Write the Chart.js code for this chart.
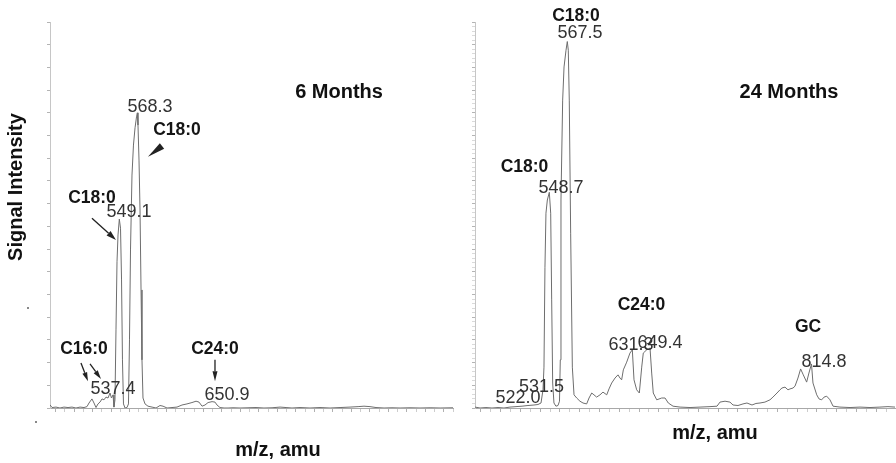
<!DOCTYPE html>
<html><head><meta charset="utf-8">
<script src="https://cdn.jsdelivr.net/npm/chart.js@4.4.1/dist/chart.umd.min.js"></script>
<style>
html,body{margin:0;padding:0;background:#fff;}
#wrap{position:relative;width:896px;height:463px;overflow:hidden;background:#fff;}
#c1{position:absolute;left:0;top:0;}
#c2{position:absolute;left:460px;top:0;}
</style></head><body>
<div id="wrap"><canvas id="c1" width="460" height="463"></canvas><canvas id="c2" width="436" height="463"></canvas></div>
<script>
// ---- 6 months spectrum (m/z, signal intensity) ----
const mz6 = [474.0,476.2,480.5,484.8,489.1,493.5,497.8,502.1,506.5,510.8,514.0,516.2,519.4,521.6,523.8,525.9,528.1,530.3,532.4,534.6,536.8,538.9,540.5,542.2,543.2,544.3,545.4,546.5,547.6,549.0,550.3,551.4,552.4,553.5,555.2,557.3,558.9,560.0,561.1,562.7,564.3,566.0,567.6,568.5,569.2,570.3,571.4,572.5,573.5,574.6,576.8,580.0,584.4,588.7,593.0,596.3,600.6,606.0,611.4,616.8,622.2,627.6,632.0,635.2,638.5,641.7,645.0,649.3,652.5,654.7,657.9,662.3,666.6,672.0,679.6,688.2,696.9,705.5,714.2,722.9,729.4,735.8,744.5,755.3,766.1,777.0,787.8,798.6,807.3,813.7,820.2,826.7,835.4,844.0,852.7,863.5,874.3,885.2,896.0,910.0];
const int6 = [0.7,0.1,0.2,0.0,0.2,0.1,0.2,0.0,0.2,0.1,0.3,1.1,2.0,1.1,0.1,0.9,1.3,2.0,1.8,2.4,2.2,3.3,2.2,2.9,0.2,1.8,17.2,32.2,38.1,41.6,39.6,28.2,10.6,0.9,0.0,0.1,0.9,15.0,34.8,51.3,57.9,61.7,64.1,65.0,62.3,54.6,43.6,26.0,10.6,2.2,0.9,0.4,0.2,0.0,0.55,0.4,0.0,0.1,0.2,0.66,0.9,1.2,1.5,1.3,0.4,0.66,1.2,1.4,1.3,0.66,0.1,0.0,0.0,0.05,0.0,0.05,0.1,0.0,0.05,0.2,0.1,0.0,0.1,0.0,0.1,0.0,0.1,0.2,0.3,0.4,0.3,0.1,0.0,0.05,0.0,0.05,0.0,0.05,0.0,0.05];

// ---- 24 months spectrum ----
const mz24 = [474.0,479.1,485.1,491.2,497.3,503.3,509.4,515.5,521.6,527.6,533.7,537.7,540.8,542.8,543.8,544.8,545.8,547.2,549.2,550.6,551.6,552.6,553.9,555.9,558.0,559.5,560.3,561.0,562.7,564.1,566.1,567.4,568.4,569.4,570.8,572.5,574.2,576.9,580.2,583.3,587.0,589.4,592.1,594.4,597.1,600.5,603.5,607.3,609.6,612.3,615.7,618.7,620.7,622.4,624.1,627.5,630.8,633.2,634.9,637.6,640.3,642.7,644.3,647.7,651.1,652.8,654.4,657.9,662.9,666.3,669.6,674.4,681.5,691.6,701.7,711.8,718.9,721.9,727.0,732.0,735.1,740.1,745.2,749.2,754.3,758.3,762.4,767.4,772.5,775.5,779.6,782.6,784.6,787.7,790.7,792.7,795.8,797.8,800.8,803.5,806.2,809.6,811.9,814.5,816.0,819.8,822.1,824.8,827.2,829.9,833.2,836.3,843.3,853.5,863.6,873.7,883.8,891.9,899.0];
const int24 = [0.2,0.0,0.1,0.0,0.1,0.0,0.2,0.3,0.4,0.55,0.66,0.77,1.1,4.0,9.0,31.0,42.9,45.8,47.5,42.9,23.8,5.5,1.1,0.4,0.55,1.5,10.6,45.8,67.8,75.1,78.8,80.7,78.8,67.8,38.5,9.0,2.9,2.2,1.5,1.1,0.9,2.2,3.3,2.9,2.4,2.9,3.5,2.9,4.2,5.5,6.6,7.3,6.6,6.2,8.4,10.1,12.1,12.8,6.2,4.0,3.3,9.0,12.1,12.8,13.2,7.7,3.3,1.8,2.2,2.2,1.1,0.4,0.2,0.1,0.2,0.3,0.4,1.3,1.5,1.3,0.66,0.55,0.9,1.1,0.66,1.0,1.1,1.3,1.8,2.4,3.3,4.0,4.4,4.6,4.0,4.2,4.4,4.8,6.6,8.6,7.3,5.7,7.7,9.7,5.5,2.9,2.0,1.8,2.4,2.6,1.8,0.4,0.2,0.1,0.2,0.1,0.2,0.3,0.2];

// ---- annotation texts ----
const notes6Text = ['568.3','C18:0','C18:0','549.1','C16:0','537.4','C24:0','650.9'];
const notes24Text = ['C18:0','567.5','C18:0','548.7','C24:0','631.3','649.4','GC','814.8','531.5','522.0'];
const panelTitles = ['6 Months','24 Months'];
const xTitle = 'm/z, amu';
const yTitle = 'Signal Intensity';

// ---- annotation placement (data units) ----
const notes6Pos = [[582.2,66.3,0],[611.4,61.2,1],[519.4,46.2,1],[559.5,43.2,0],[510.8,13.0,1],[542.2,4.2,0],[652.5,13.0,1],[665.5,2.9,0]];
const notes24Pos = [[576.2,86.3,1],[580.2,82.6,0],[524.1,53.1,1],[561.0,48.4,0],[642.5,22.7,1],[631.9,13.9,0],[661.2,14.3,0],[811.0,17.8,1],[827.2,10.1,0],[541.3,4.6,0],[517.5,2.2,0]];
const arrows6 = [[519.4,41.8,545.4,37.0,10,6],[507.5,9.9,515.1,5.9,9,5],[517.3,9.7,529.2,6.4,9,5],[652.5,10.6,652.5,5.9,10,5],[595.2,57.7,580.0,55.3,99,7]];

const FONT = '"Liberation Sans", Arial, Helvetica, sans-serif';

function drawArrow(ctx,x1,y1,x2,y2,head,w){
  const len=Math.hypot(x2-x1,y2-y1); head=Math.min(head,len);
  const a=Math.atan2(y2-y1,x2-x1);
  const bx=x2-head*Math.cos(a), by=y2-head*Math.sin(a);
  if(head<len){ctx.beginPath();ctx.moveTo(x1,y1);ctx.lineTo(bx,by);ctx.stroke();}
  ctx.beginPath();ctx.moveTo(x2,y2);
  ctx.lineTo(bx+w/2*Math.sin(a),by-w/2*Math.cos(a));
  ctx.lineTo(bx-w/2*Math.sin(a),by+w/2*Math.cos(a));
  ctx.closePath();ctx.fill();
}

function annoPlugin(texts,pos,arrows,title,titlePos,xTitlePx,extra){
  return {id:'anno',afterDraw(chart){
    const ctx=chart.ctx, xs=chart.scales.x, ys=chart.scales.y;
    const px=m=>xs.getPixelForValue(m), py=v=>ys.getPixelForValue(v);
    ctx.save();
    ctx.textAlign='center';ctx.textBaseline='middle';
    texts.forEach((t,i)=>{const p=pos[i];
      ctx.font=p[2]?('bold 17.5px '+FONT):('18px '+FONT);
      ctx.fillStyle=p[2]?'#151515':'#333';
      ctx.fillText(t,px(p[0]),py(p[1]));});
    ctx.strokeStyle='#222';ctx.fillStyle='#222';ctx.lineWidth=1.3;
    arrows.forEach(a=>drawArrow(ctx,px(a[0]),py(a[1]),px(a[2]),py(a[3]),a[4],a[5]));
    ctx.fillStyle='#111';ctx.font='bold 20px '+FONT;
    ctx.fillText(title,px(titlePos[0]),py(titlePos[1]));
    ctx.fillText(xTitle,xTitlePx[0],xTitlePx[1]);
    if(extra) extra(ctx);
    ctx.restore();
  }};
}

function makeChart(id,mz,inten,xmin,xmax,ystep,pad,plugin){
  return new Chart(document.getElementById(id),{
    type:'line',
    data:{datasets:[{data:mz.map((m,i)=>({x:m,y:inten[i]})),borderColor:'#6e6e6e',borderWidth:1,pointRadius:0,tension:0,fill:false}]},
    options:{responsive:false,animation:false,devicePixelRatio:1,layout:{padding:pad},
      plugins:{legend:{display:false},tooltip:{enabled:false}},
      scales:{
        x:{type:'linear',min:xmin,max:xmax,
          ticks:{display:false,stepSize:10,includeBounds:false},
          grid:{drawOnChartArea:false,drawTicks:true,tickLength:4,color:c=>(c.tick&&Math.round(c.tick.value)%20===0)?'#b0b0b0':'#cdcdcd'},
          border:{color:'#a8a8a8',width:1},
          afterFit:s=>{s.height=4;}},
        y:{type:'linear',min:0,max:85,
          ticks:{display:false,stepSize:ystep,includeBounds:false},
          grid:{drawOnChartArea:false,drawTicks:true,tickLength:3,color:c=>(c.tick&&Math.round(c.tick.value)%5===0)?'#b4b4b4':'#dadada'},
          border:{color:'#c6c6c6',width:1},
          afterFit:s=>{s.width=4;}}
      }},
    plugins:[plugin]
  });
}

makeChart('c1',mz6,int6,474,910,5,{left:46,top:22,right:7,bottom:51},
  annoPlugin(notes6Text,notes6Pos,arrows6,panelTitles[0],[786.7,69.4],[278,450],ctx=>{
    ctx.save();ctx.translate(16,187);ctx.rotate(-Math.PI/2);
    ctx.fillStyle='#111';ctx.font='bold 20px '+FONT;ctx.textAlign='center';ctx.textBaseline='middle';
    ctx.fillText(yTitle,0,0);ctx.restore();
    ctx.fillStyle='#888';ctx.fillRect(27,307,2,2);ctx.fillRect(35,421,2,2);
  }));
makeChart('c2',mz24,int24,474,899,1,{left:11,top:22,right:1,bottom:51},
  annoPlugin(notes24Text,notes24Pos,[],panelTitles[1],[791.7,69.4],[255,433],null));
</script>
</body></html>
